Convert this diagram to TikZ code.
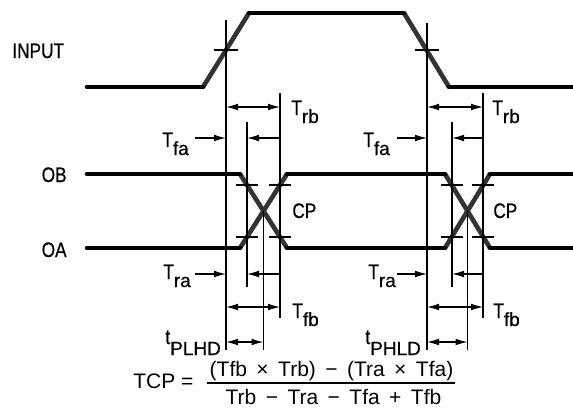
\documentclass[tikz,border=0pt]{standalone}
\usepackage{fontspec}
\setmainfont{Liberation Sans}
\newfontfamily\narrowsf[FakeStretch=0.82,FakeBold=0.6]{Liberation Sans}
\newfontfamily\subsf[FakeBold=0.5]{Liberation Sans}
\usetikzlibrary{arrows.meta}
\newcommand{\lowsub}[2][4pt]{\raisebox{-#1}{\subsf\fontsize{9.5}{10}\selectfont #2}}
\newcommand{\opsp}[1]{\hspace{0.45em}#1\hspace{0.45em}}

\begin{document}
\begin{tikzpicture}[x=0.5pt,y=0.5pt,
    level/.style={line width=2.3pt,line cap=round,black},
    ramp/.style={line width=2.3pt,black!80},
    guide/.style={line width=0.6pt,black},
    dimarr/.style={line width=0.6pt,-{Latex[length=6pt,width=3.4pt]}},
    dimboth/.style={line width=0.6pt,{Latex[length=6pt,width=3.4pt]}-{Latex[length=6pt,width=3.4pt]}},
    lbl/.style={font=\narrowsf\fontsize{10.5}{12}\selectfont},
    eqn/.style={font=\fontsize{10.5}{12}\selectfont}]
        \tikzstyle{every node}+=[inner sep=0pt]
        \useasboundingbox (0,0) rectangle (573,-408);
        \draw [ramp] (203,-87) -- (249,-13);
        \draw [ramp] (404,-13) -- (449,-87);
        \draw [level] (87,-87) -- (203,-87);
        \draw [level] (249,-13) -- (404,-13);
        \draw [level] (449,-87) -- (576,-87);
        \draw [ramp] (240,-174) -- (287,-248);
        \draw [ramp] (240,-248) -- (287,-174);
        \draw [ramp] (445,-174) -- (490,-248);
        \draw [ramp] (445,-248) -- (490,-174);
        \draw [level] (87,-174) -- (240,-174);
        \draw [level] (287,-174) -- (445,-174);
        \draw [level] (490,-174) -- (576,-174);
        \draw [level] (87,-248) -- (240,-248);
        \draw [level] (287,-248) -- (445,-248);
        \draw [level] (490,-248) -- (576,-248);
        \draw [guide] (226,-20) -- (226,-350);
        \draw [guide] (247,-122) -- (247,-287);
        \draw [guide] (280,-93) -- (280,-318);
        \draw [guide] (263.5,-211) -- (263.5,-350);
        \draw [guide] (427,-23) -- (427,-350);
        \draw [guide] (452,-122) -- (452,-287);
        \draw [guide] (483,-93) -- (483,-318);
        \draw [guide] (467.5,-211) -- (467.5,-350);
        \draw [guide] (214,-50) -- (238,-50);
        \draw [guide] (415,-50) -- (439,-50);
        \draw [guide] (236,-185) -- (258,-185);
        \draw [guide] (269,-185) -- (291,-185);
        \draw [guide] (236,-237) -- (258,-237);
        \draw [guide] (269,-237) -- (291,-237);
        \draw [guide] (441,-185) -- (463,-185);
        \draw [guide] (472,-185) -- (494,-185);
        \draw [guide] (441,-237) -- (463,-237);
        \draw [guide] (472,-237) -- (494,-237);
        \draw [dimboth] (226,-107) -- (280,-107);
        \draw [dimboth] (427,-107) -- (483,-107);
        \draw [dimarr] (195,-138) -- (226,-138);
        \draw [dimarr] (280,-138) -- (247,-138);
        \draw [dimarr] (397,-138) -- (427,-138);
        \draw [dimarr] (483,-138) -- (452,-138);
        \draw [dimarr] (195,-274) -- (226,-274);
        \draw [dimarr] (280,-274) -- (247,-274);
        \draw [dimarr] (397,-274) -- (427,-274);
        \draw [dimarr] (483,-274) -- (452,-274);
        \draw [dimboth] (226,-307) -- (280,-307);
        \draw [dimboth] (427,-307) -- (483,-307);
        \draw [dimboth] (226,-342) -- (263.5,-342);
        \draw [dimboth] (427,-342) -- (467.5,-342);
        \node [lbl,anchor=base west] (input) at (12,-58) {INPUT};
        \node [lbl,anchor=base east] (ob) at (67,-182) {OB};
        \node [lbl,anchor=base east] (oa) at (67,-257) {OA};
        \node [lbl,anchor=base west] (trb1) at (291,-115) {T\lowsub{rb}};
        \node [lbl,anchor=base west] (trb2) at (492,-115) {T\lowsub{rb}};
        \node [lbl,anchor=base west] (tfa1) at (162,-147) {T\lowsub{fa}};
        \node [lbl,anchor=base west] (tfa2) at (363,-147) {T\lowsub{fa}};
        \node [lbl,anchor=base west] (cp1) at (292,-218) {CP};
        \node [lbl,anchor=base west] (cp2) at (493,-218) {CP};
        \node [lbl,anchor=base west] (tra1) at (163,-279) {T\lowsub{ra}};
        \node [lbl,anchor=base west] (tra2) at (368,-279) {T\lowsub{ra}};
        \node [lbl,anchor=base west] (tfb1) at (292,-318) {T\lowsub{fb}};
        \node [lbl,anchor=base west] (tfb2) at (493,-318) {T\lowsub{fb}};
        \node [lbl,anchor=base west] (tplhd) at (165,-344) {t\lowsub[5.5pt]{PLHD}};
        \node [lbl,anchor=base west] (tphld) at (365,-344) {t\lowsub[5.5pt]{PHLD}};
        \node [eqn,anchor=base west] (tcp) at (133,-388) {TCP =};
        \node [eqn,anchor=base] (num) at (331.5,-376) {(Tfb\opsp{×}Trb)\opsp{−}(Tra\opsp{×}Tfa)};
        \node [eqn,anchor=base] (den) at (333.5,-404) {Trb\opsp{−}Tra\opsp{−}Tfa\opsp{+}Tfb};
        \draw [line width=0.8pt] (207,-383) -- (455,-383);
\end{tikzpicture}
\end{document}
